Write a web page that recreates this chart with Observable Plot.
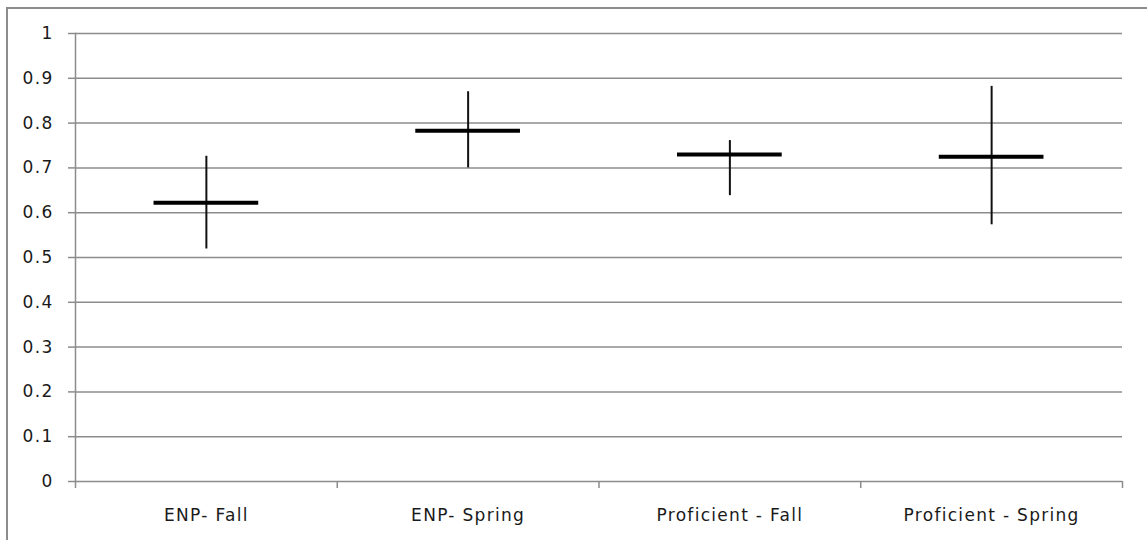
<!DOCTYPE html>
<html>
<head>
<meta charset="utf-8">
<script src="https://cdn.jsdelivr.net/npm/d3@7"></script>
<script src="https://cdn.jsdelivr.net/npm/@observablehq/plot@0.6"></script>
<style>
  html, body { margin: 0; padding: 0; background: #fff; overflow: hidden; width: 1147px; height: 540px; }
  #frame { position: absolute; left: 6px; top: 7px; width: 1200px; height: 600px; border: 2px solid #8c8c8c; box-sizing: border-box; }
  #chart { position: absolute; left: 0; top: 0; }
  #chart svg { background: transparent; }
</style>
</head>
<body>
<div id="frame"></div>
<div id="chart"></div>
<script>
const categories = ["ENP- Fall", "ENP- Spring", "Proficient - Fall", "Proficient - Spring"];
const means = [0.622, 0.783, 0.730, 0.725];
const lows  = [0.519, 0.700, 0.638, 0.573];
const highs = [0.726, 0.870, 0.761, 0.882];
const yTicks = [0, 0.1, 0.2, 0.3, 0.4, 0.5, 0.6, 0.7, 0.8, 0.9, 1];
const yTickLabels = ["0", "0.1", "0.2", "0.3", "0.4", "0.5", "0.6", "0.7", "0.8", "0.9", "1"];

const data = categories.map((c, i) => ({cat: c, pos: i + 0.5, mean: means[i], low: lows[i], high: highs[i]}));
const boundaries = d3.range(categories.length + 1);
const centers = data.map(d => d.pos);

const grid = "#8c8c8c";
const font = "'DejaVu Sans', Verdana, sans-serif";

const chart = Plot.plot({
  width: 1147,
  height: 540,
  marginLeft: 75,
  marginRight: 25,
  marginTop: 33,
  marginBottom: 59,
  style: {fontFamily: font, fontSize: "17px", color: "#1a1a1a", background: "transparent", letterSpacing: "1.3px"},
  x: {domain: [0, categories.length]},
  y: {domain: [0, 1]},
  marks: [
    Plot.ruleY(yTicks, {stroke: grid, strokeWidth: 1.5}),
    Plot.frame({anchor: "left", stroke: grid, strokeWidth: 1.5}),
    Plot.axisY({ticks: yTicks, tickFormat: (d, i) => yTickLabels[i], tickSize: 7, tickPadding: 15, stroke: grid, strokeWidth: 1.5, label: null, fill: "#1a1a1a"}),
    Plot.axisX({ticks: boundaries, tickFormat: () => "", tickSize: 7, stroke: grid, strokeWidth: 1.5, label: null}),
    Plot.axisX({ticks: centers, tickFormat: d => categories[Math.round(d - 0.5)], tickSize: 0, tickPadding: 27, label: null, fill: "#1a1a1a"}),
    Plot.ruleX(data, {x: "pos", y1: "low", y2: "high", stroke: "#111", strokeWidth: 2}),
    Plot.ruleY(data, {y: "mean", x1: d => d.pos - 0.2, x2: d => d.pos + 0.2, stroke: "#000", strokeWidth: 4})
  ]
});
document.getElementById("chart").appendChild(chart);
</script>
</body>
</html>
